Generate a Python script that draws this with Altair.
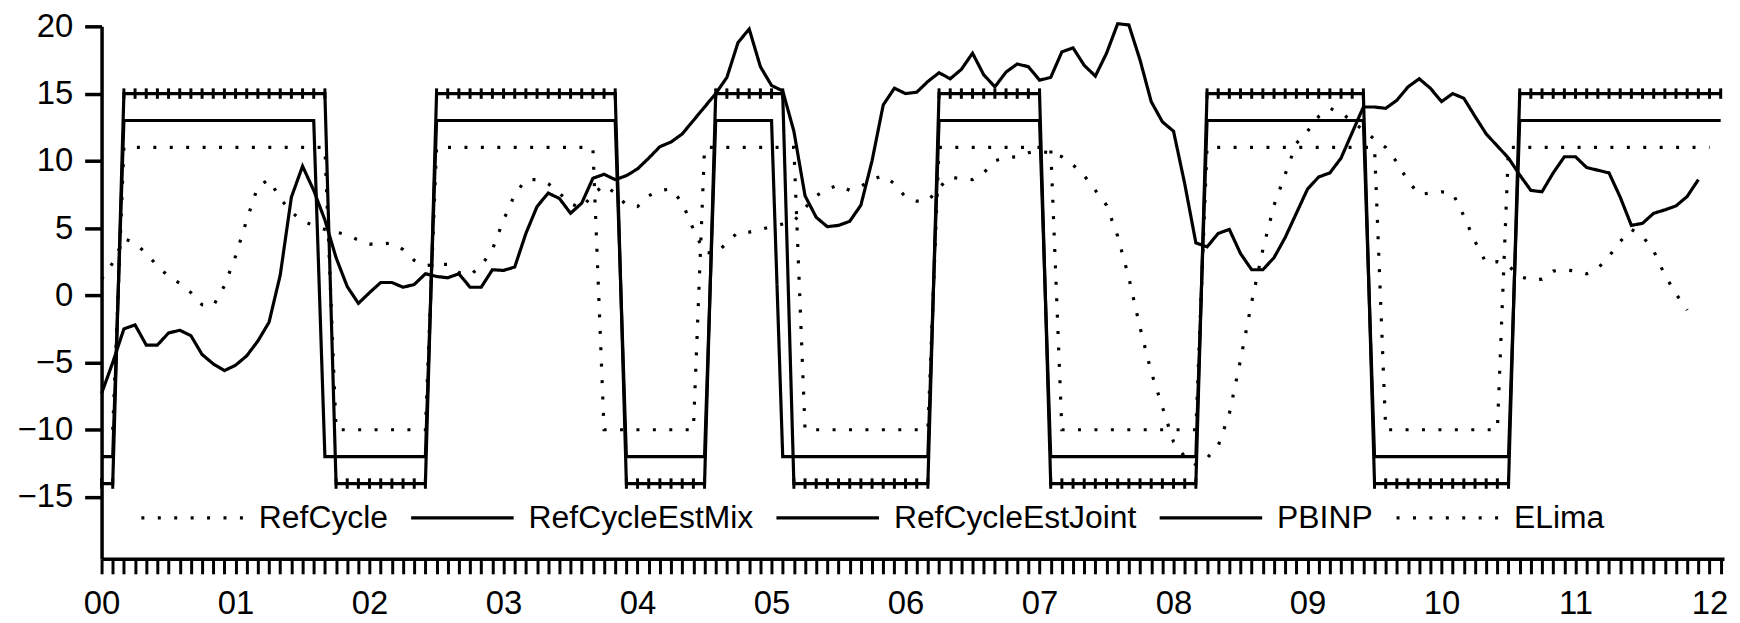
import altair as alt
import pandas as pd

series_names = ["RefCycle", "RefCycleEstMix", "RefCycleEstJoint", "PBINP", "ELima"]
year_labels = ["00", "01", "02", "03", "04", "05", "06", "07", "08", "09", "10", "11", "12"]
y_ticks = [-15, -10, -5, 0, 5, 10, 15, 20]

# monthly values, first value = Jan 2000 (one row per year)
ref_cycle = [
    None, -10, 11, 11, 11, 11, 11, 11, 11, 11, 11, 11,
    11, 11, 11, 11, 11, 11, 11, 11, 11, -10, -10, -10,
    -10, -10, -10, -10, -10, -10, 11, 11, 11, 11, 11, 11,
    11, 11, 11, 11, 11, 11, 11, 11, 11, -10, -10, -10,
    -10, -10, -10, -10, -10, -10, 11, 11, 11, 11, 11, 11,
    11, 11, 11, -10, -10, -10, -10, -10, -10, -10, -10, -10,
    -10, -10, -10, 11, 11, 11, 11, 11, 11, 11, 11, 11,
    11, 11, -10, -10, -10, -10, -10, -10, -10, -10, -10, -10,
    -10, -10, -10, 11, 11, 11, 11, 11, 11, 11, 11, 11,
    11, 11, 11, 11, 11, 11, 11, -10, -10, -10, -10, -10,
    -10, -10, -10, -10, -10, -10, 11, 11, 11, 11, 11, 11,
    11, 11, 11, 11, 11, 11, 11, 11, 11, 11, 11, 11,
    11,
]

ref_cycle_est_mix = [
    -7.3, -5.0, -2.5, -2.2, -3.7, -3.7, -2.8, -2.6, -3.0, -4.4, -5.1, -5.6,
    -5.2, -4.5, -3.4, -2.0, 1.5, 7.3, 9.6, 7.8, 5.6, 2.8, 0.65, -0.6,
    0.2, 0.95, 0.95, 0.6, 0.8, 1.6, 1.4, 1.3, 1.6, 0.6, 0.6, 1.9,
    1.85, 2.1, 4.6, 6.6, 7.6, 7.2, 6.1, 6.85, 8.7, 9.0, 8.6, 8.9,
    9.4, 10.2, 11.05, 11.4, 12.0, 13.0, 14.0, 15.0, 16.2, 18.8, 19.8, 17.0,
    15.6, 15.2, 12.2, 7.4, 5.8, 5.1, 5.2, 5.5, 6.7, 10.0, 14.15, 15.4,
    15.0, 15.1, 15.9, 16.55, 16.1, 16.8, 18.0, 16.4, 15.5, 16.6, 17.2, 17.0,
    16.0, 16.2, 18.1, 18.4, 17.1, 16.3, 18.0, 20.2, 20.1, 17.5, 14.4, 12.9,
    12.2, 8.3, 3.9, 3.6, 4.6, 4.9, 3.1, 1.9, 1.9, 2.8, 4.3, 6.1,
    7.9, 8.8, 9.1, 10.2, 12.1, 14.0, 14.0, 13.9, 14.5, 15.5, 16.1, 15.4,
    14.4, 15.0, 14.65, 13.3, 12.0, 11.1, 10.2, 8.95, 7.8, 7.7, 9.1, 10.3,
    10.3, 9.5, 9.3, 9.1, 7.3, 5.2, 5.35, 6.1, 6.35, 6.65, 7.35, 8.6,
]

ref_cycle_est_joint = [
    -14, -14, 15, 15, 15, 15, 15, 15, 15, 15, 15, 15,
    15, 15, 15, 15, 15, 15, 15, 15, 15, -14, -14, -14,
    -14, -14, -14, -14, -14, -14, 15, 15, 15, 15, 15, 15,
    15, 15, 15, 15, 15, 15, 15, 15, 15, 15, 15, -14,
    -14, -14, -14, -14, -14, -14, -14, 15, 15, 15, 15, 15,
    15, 15, -14, -14, -14, -14, -14, -14, -14, -14, -14, -14,
    -14, -14, -14, 15, 15, 15, 15, 15, 15, 15, 15, 15,
    15, -14, -14, -14, -14, -14, -14, -14, -14, -14, -14, -14,
    -14, -14, -14, 15, 15, 15, 15, 15, 15, 15, 15, 15,
    15, 15, 15, 15, 15, 15, -14, -14, -14, -14, -14, -14,
    -14, -14, -14, -14, -14, -14, -14, 15, 15, 15, 15, 15,
    15, 15, 15, 15, 15, 15, 15, 15, 15, 15, 15, 15,
    15, 15,
]

pbinp = [
    -12, -12, 13, 13, 13, 13, 13, 13, 13, 13, 13, 13,
    13, 13, 13, 13, 13, 13, 13, 13, -12, -12, -12, -12,
    -12, -12, -12, -12, -12, -12, 13, 13, 13, 13, 13, 13,
    13, 13, 13, 13, 13, 13, 13, 13, 13, 13, 13, -12,
    -12, -12, -12, -12, -12, -12, -12, 13, 13, 13, 13, 13,
    13, -12, -12, -12, -12, -12, -12, -12, -12, -12, -12, -12,
    -12, -12, -12, 13, 13, 13, 13, 13, 13, 13, 13, 13,
    13, -12, -12, -12, -12, -12, -12, -12, -12, -12, -12, -12,
    -12, -12, -12, 13, 13, 13, 13, 13, 13, 13, 13, 13,
    13, 13, 13, 13, 13, 13, -12, -12, -12, -12, -12, -12,
    -12, -12, -12, -12, -12, -12, -12, 13, 13, 13, 13, 13,
    13, 13, 13, 13, 13, 13, 13, 13, 13, 13, 13, 13,
    13, 13,
]

elima = [
    1.2, 2.4, 4.2, 3.9, 3.1, 2.2, 1.4, 0.9, 0.2, -0.7, -0.8, 0.7,
    2.9, 5.6, 8.1, 8.6, 7.2, 6.2, 5.5, 5.2, 4.9, 4.7, 4.5, 4.1,
    3.8, 3.8, 3.9, 3.4, 2.6, 2.2, 2.3, 2.3, 1.7, 1.5, 2.2, 3.4,
    5.6, 7.5, 8.6, 8.6, 8.3, 7.6, 6.8, 6.5, 7.5, 8.2, 7.6, 6.7,
    6.6, 7.4, 7.8, 7.9, 6.9, 4.9, 3.2, 3.1, 3.9, 4.7, 4.7, 4.9,
    5.1, 5.3, 5.5, 6.5, 7.4, 7.9, 8.2, 7.8, 8.1, 8.6, 8.9, 8.3,
    7.3, 7.0, 7.0, 8.0, 8.8, 8.65, 8.6, 9.1, 10.0, 10.25, 10.3, 10.6,
    10.7, 10.6, 10.3, 9.7, 8.9, 7.8, 6.7, 4.4, 1.3, -2.4, -5.7, -8.3,
    -10.9, -12.0, -12.6, -12.1, -11.2, -8.8, -4.8, -0.5, 3.4, 6.7, 9.0, 11.3,
    12.2, 13.3, 13.9, 13.6, 12.9, 12.3, 11.6, 11.0, 9.9, 8.5, 7.5, 7.6,
    7.7, 7.6, 5.9, 4.0, 2.4, 2.5, 2.2, 1.4, 1.15, 1.2, 1.8, 1.9,
    1.8, 1.6, 2.0, 2.9, 4.0, 4.9, 4.4, 3.3, 1.5, 0.1, -1.1,
]

all_values = [ref_cycle, ref_cycle_est_mix, ref_cycle_est_joint, pbinp, elima]

rows = []
for name, vals in zip(series_names, all_values):
    for m, v in enumerate(vals):
        if v is not None:
            rows.append({"month": m, "value": v, "series": name})
df = pd.DataFrame(rows)

FONT = "Liberation Sans"

x_enc = alt.X(
    "month:Q",
    scale=alt.Scale(domain=[0, 145.3], nice=False, zero=False),
    axis=alt.Axis(
        values=list(range(0, 146)),
        labelExpr="datum.value % 12 == 0 ? " + str(year_labels) + "[datum.value / 12] : ''",
        tickSize=15,
        tickWidth=3,
        tickColor="black",
        domainWidth=3.5,
        domainColor="black",
        labelFontSize=33,
        labelFont=FONT,
        labelColor="black",
        labelPadding=14,
        labelOverlap=False,
        labelFlush=False,
        grid=False,
        title=None,
    ),
)
y_enc = alt.Y(
    "value:Q",
    scale=alt.Scale(domain=[-19.6, 20], nice=False, zero=False),
    axis=alt.Axis(
        values=y_ticks,
        tickSize=17,
        tickWidth=3.5,
        tickColor="black",
        domainWidth=3.5,
        domainColor="black",
        labelFontSize=33,
        labelFont=FONT,
        labelColor="black",
        labelPadding=12,
        grid=False,
        title=None,
    ),
)

lines = alt.Chart(df).mark_line(color="black", strokeCap="butt").encode(
    x=x_enc,
    y=y_enc,
    strokeDash=alt.StrokeDash(
        "series:N",
        scale=alt.Scale(
            domain=series_names,
            range=[[3, 13.5], [1, 0], [1, 0], [1, 0], [3, 13.5]],
        ),
        legend=alt.Legend(
            orient="none",
            legendX=38,
            legendY=440,
            direction="horizontal",
            columns=5,
            symbolType="stroke",
            symbolSize=10609,
            symbolStrokeWidth=3,
            symbolStrokeColor="black",
            labelFontSize=32,
            labelFont=FONT,
            labelColor="black",
            labelOffset=13,
            labelLimit=500,
            columnPadding=16,
            padding=0,
            title=None,
        ),
    ),
    strokeWidth=alt.StrokeWidth(
        "series:N",
        scale=alt.Scale(domain=series_names, range=[3.2, 3.2, 2.8, 2.4, 3.2]),
        legend=None,
    ),
    detail="series:N",
)

joint_marks = alt.Chart(df).transform_filter(
    alt.datum.series == "RefCycleEstJoint"
).mark_point(
    shape="M0,-1L0,1", filled=False, color="black", strokeWidth=3, size=110, opacity=1
).encode(x=x_enc, y=y_enc)

chart = alt.layer(lines, joint_marks).properties(
    width=1630,
    height=535,
    autosize=alt.AutoSizeParams(type="none"),
    padding={"left": 94, "top": 17, "right": 8, "bottom": 62},
    background="white",
).configure_view(strokeWidth=0)

chart.save("out.html", embed_options={"renderer": "svg", "actions": False})
